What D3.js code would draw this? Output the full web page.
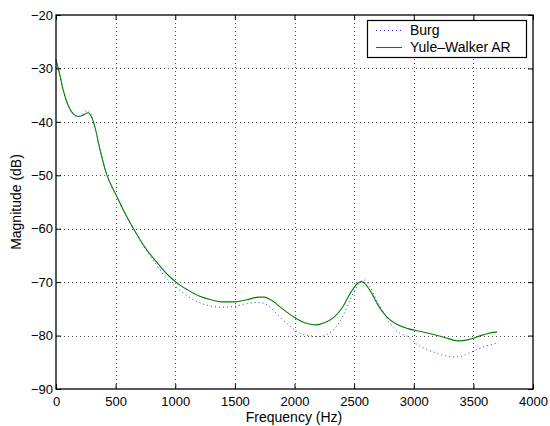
<!DOCTYPE html>
<html>
<head>
<meta charset="utf-8">
<script src="https://cdn.jsdelivr.net/npm/d3@7"></script>
<style>
  html, body { margin: 0; padding: 0; background: #fff; }
  svg { display: block; font-family: "Liberation Sans", Arial, Helvetica, sans-serif; }
</style>
</head>
<body>
<svg id="chart" width="550" height="426"></svg>
<script>
// Power spectral density estimates (dB) of an AR model, two estimators
const burgFreq = [0, 30, 60, 100, 150, 190, 230, 265, 300, 330, 370, 420, 500, 600, 650, 750, 850, 950, 1000, 1100, 1200, 1300, 1400, 1500, 1600, 1700, 1780, 1850, 1950, 2050, 2150, 2214, 2280, 2330, 2410, 2490, 2560, 2590, 2630, 2690, 2750, 2800, 2880, 2950, 3024, 3100, 3164, 3250, 3332, 3400, 3450, 3520, 3600, 3700];
const burgDb = [-28.4, -31.0, -34.0, -36.9, -38.7, -39.0, -38.5, -37.8, -39.0, -41.3, -45.3, -49.5, -53.6, -58.1, -60.0, -63.8, -67.0, -69.9, -70.8, -72.6, -73.8, -74.5, -74.7, -74.5, -74.0, -73.8, -74.4, -75.9, -78.0, -79.6, -80.1, -80.2, -79.7, -78.9, -76.2, -72.2, -69.8, -69.6, -70.8, -73.4, -75.8, -77.7, -79.5, -80.2, -81.6, -82.5, -83.05, -83.7, -84.0, -83.9, -83.4, -82.7, -82.0, -81.4];

const ywFreq = [0, 30, 60, 100, 150, 190, 230, 270, 300, 330, 370, 420, 500, 600, 650, 750, 850, 950, 1000, 1100, 1200, 1300, 1400, 1500, 1600, 1700, 1750, 1800, 1900, 2000, 2100, 2180, 2250, 2330, 2400, 2470, 2530, 2560, 2600, 2650, 2700, 2770, 2850, 2950, 3050, 3150, 3250, 3380, 3450, 3550, 3620, 3700];
const ywDb = [-28.4, -31.0, -34.0, -36.8, -38.6, -39.0, -38.7, -38.3, -39.2, -41.3, -45.3, -49.5, -53.5, -58.0, -60.0, -63.6, -66.4, -68.9, -69.9, -71.4, -72.6, -73.3, -73.7, -73.7, -73.3, -72.8, -72.8, -73.3, -75.0, -76.6, -77.7, -78.0, -77.6, -76.6, -74.8, -72.0, -70.2, -69.9, -70.5, -72.2, -74.3, -76.4, -77.8, -78.7, -79.2, -79.7, -80.3, -81.0, -80.8, -80.1, -79.6, -79.3];

const xTicks = [0, 500, 1000, 1500, 2000, 2500, 3000, 3500, 4000];
const yTicks = [-90, -80, -70, -60, -50, -40, -30, -20];
const seriesNames = ["Burg", "Yule\u2013Walker AR"];

const svg = d3.select("#chart");
const plotL = 56, plotR = 533, plotT = 15, plotB = 389;
const x = d3.scaleLinear().domain([0, 4000]).range([plotL, plotR]);
const y = d3.scaleLinear().domain([-90, -20]).range([plotB, plotT]);
const tickFont = 13, labelFont = 14;

// dotted grid
const grid = svg.append("g").attr("stroke", "#555").attr("stroke-width", 1)
  .attr("stroke-dasharray", "1,3");
xTicks.slice(1, -1).forEach(t => {
  grid.append("line").attr("x1", Math.round(x(t)) + 0.5).attr("x2", Math.round(x(t)) + 0.5)
    .attr("y1", plotT).attr("y2", plotB);
});
yTicks.slice(1, -1).forEach(t => {
  grid.append("line").attr("y1", Math.round(y(t)) + 0.5).attr("y2", Math.round(y(t)) + 0.5)
    .attr("x1", plotL).attr("x2", plotR);
});

// curves
const line = d3.line().curve(d3.curveMonotoneX);
const burgPts = burgFreq.map((f, i) => [x(f), y(burgDb[i])]);
const ywPts = ywFreq.map((f, i) => [x(f), y(ywDb[i])]);

svg.append("path").attr("d", line(burgPts)).attr("fill", "none")
  .attr("stroke", "#0000ff").attr("stroke-width", 1).attr("stroke-dasharray", "1,3")
  .attr("opacity", 0.8);
svg.append("path").attr("d", line(ywPts)).attr("fill", "none")
  .attr("stroke", "#008000").attr("stroke-width", 1.1);

// axes: bottom/left with labels, top/right mirrored ticks, all inward
const fmt = d => d3.format("d")(d).replace("-", "\u2212");
const axB = d3.axisBottom(x).tickValues(xTicks).tickSize(-5).tickPadding(8).tickFormat(fmt);
const axL = d3.axisLeft(y).tickValues(yTicks).tickSize(-5).tickPadding(3).tickFormat(fmt);
const axT = d3.axisTop(x).tickValues(xTicks).tickSize(-5).tickFormat("");
const axR = d3.axisRight(y).tickValues(yTicks).tickSize(-5).tickFormat("");

function style(g) {
  g.select(".domain").remove();
  g.selectAll("line").attr("stroke", "#000");
  g.selectAll("text").attr("font-size", tickFont).attr("font-family", null).attr("fill", "#000");
}
svg.append("g").attr("transform", `translate(0,${plotB})`).call(axB).call(style);
svg.append("g").attr("transform", `translate(${plotL},0)`).call(axL).call(style);
svg.append("g").attr("transform", `translate(0,${plotT})`).call(axT).call(style);
svg.append("g").attr("transform", `translate(${plotR},0)`).call(axR).call(style);

svg.append("rect").attr("x", plotL).attr("y", plotT).attr("width", plotR - plotL).attr("height", plotB - plotT)
  .attr("fill", "none").attr("stroke", "#000").attr("stroke-width", 1.3);

// axis titles
svg.append("text").attr("x", 294).attr("y", 422).attr("text-anchor", "middle")
  .attr("font-size", labelFont).text("Frequency (Hz)");
svg.append("text").attr("transform", `translate(21,${(plotT + plotB) / 2}) rotate(-90)`)
  .attr("text-anchor", "middle").attr("font-size", labelFont).text("Magnitude (dB)");

// legend
const lg = svg.append("g");
lg.append("rect").attr("x", 367.5).attr("y", 20.5).attr("width", 159).attr("height", 37)
  .attr("fill", "#fff").attr("stroke", "#000").attr("stroke-width", 1.2);
const rowsY = [30, 47];
lg.append("line").attr("x1", 376).attr("x2", 402).attr("y1", rowsY[0] + 0.5).attr("y2", rowsY[0] + 0.5)
  .attr("stroke", "#0000ff").attr("stroke-dasharray", "1,3").attr("opacity", 0.8);
lg.append("line").attr("x1", 376).attr("x2", 402).attr("y1", rowsY[1] + 0.5).attr("y2", rowsY[1] + 0.5)
  .attr("stroke", "#008000").attr("stroke-width", 1.1);
seriesNames.forEach((n, i) => {
  lg.append("text").attr("x", 410).attr("y", rowsY[i] + 5).attr("font-size", labelFont).text(n);
});
</script>
</body>
</html>
